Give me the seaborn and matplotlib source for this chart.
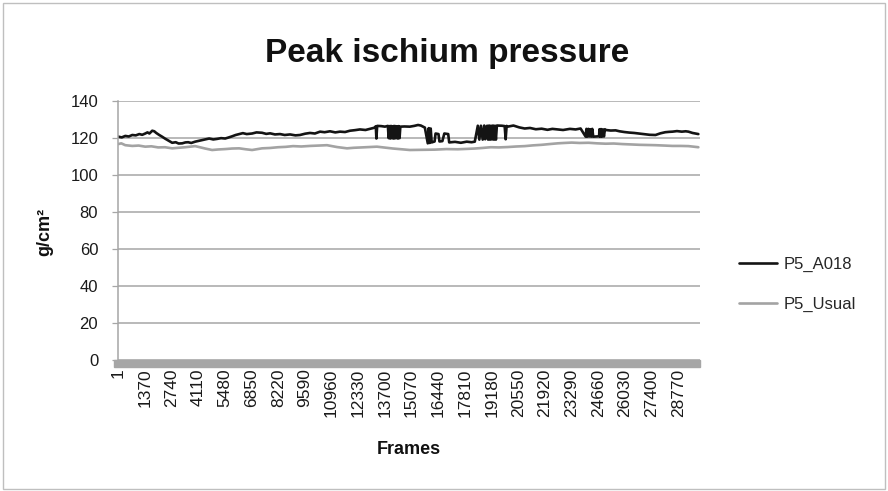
import matplotlib
matplotlib.use("Agg")
import matplotlib.pyplot as plt
import seaborn as sns
import pandas as pd
from matplotlib.patches import Rectangle

# values (frame number -> g/cm2)
a018_frames = [
    1, 180, 360, 540, 720, 900, 1080, 1230, 1385, 1500, 1600, 1745, 1850, 1950,
    2105, 2250, 2410, 2590, 2770, 2950, 3100, 3285, 3450, 3590, 3750, 3950,
    4120, 4310, 4500, 4670, 4880, 5080, 5280, 5490, 5650, 5850, 6030, 6210,
    6400, 6600, 6875, 7100, 7385, 7600, 7800, 8050, 8310, 8550, 8825, 9100,
    9335, 9600, 9850, 10100, 10365, 10600, 10875, 11150, 11390, 11650, 11900,
    12150, 12415, 12700, 12930, 13150, 13230, 13260, 13300, 13500, 13700, 13850,
    13890, 13930, 13970, 14010, 14050, 14090, 14130, 14170, 14210, 14250, 14290,
    14330, 14370, 14410, 14450, 14490, 14700, 14980, 15200, 15400, 15545, 15750,
    15900, 15950, 16000, 16050, 16100, 16250, 16300, 16450, 16500, 16650, 16750,
    16950, 17000, 17300, 17600, 17900, 18150, 18315, 18470, 18550, 18630, 18720,
    18800, 18850, 18950, 19000, 19050, 19100, 19150, 19200, 19250, 19300, 19350,
    19400, 19450, 19700, 19850, 19900, 19950, 20005, 20300, 20600, 20880, 21150,
    21450, 21750, 22050, 22300, 22570, 22850, 23200, 23495, 23750, 24010, 24050,
    24100, 24150, 24200, 24250, 24300, 24350, 24400, 24700, 24720, 24760, 24800,
    24850, 24900, 24950, 25000, 25035, 25300, 25550, 25750, 26000, 26250, 26500,
    26730, 27000, 27300, 27600, 27850, 28100, 28300, 28470, 28700, 28950, 29150,
    29290, 29500, 29800,
]
a018_values = [
    120.6, 120.2, 121.0, 120.7, 121.5, 121.3, 122.0, 121.6, 122.3, 122.9, 122.3, 123.8, 123.5, 122.6,
    121.5, 120.6, 119.5, 118.4, 117.3, 117.6, 116.9, 117.0, 117.5, 117.6, 117.2, 117.9,
    118.3, 118.8, 119.2, 119.6, 119.1, 119.4, 119.8, 119.6, 120.1, 120.8, 121.5, 122.0,
    122.5, 122.0, 122.3, 122.9, 122.7, 122.1, 122.4, 121.8, 122.0, 121.5, 121.8, 121.3,
    121.5, 122.2, 122.6, 122.3, 123.3, 123.0, 123.5, 122.9, 123.3, 123.1, 123.8,
    124.1, 124.5, 124.2, 124.8, 125.4, 126.2, 119.6, 126.4, 126.3, 126.0, 126.4,
    119.8, 126.3, 119.6, 126.4, 119.8, 126.2, 119.6, 126.4, 119.7, 126.3, 119.8,
    126.2, 119.6, 126.3, 119.8, 126.0, 126.1, 126.0, 126.4, 126.9, 126.6, 125.5,
    117.0, 125.2, 117.2, 125.0, 117.5, 118.0, 122.3, 122.0, 118.0, 118.2, 122.3,
    122.0, 117.5, 117.8, 117.3, 117.9, 117.6, 117.9, 126.5, 119.0, 126.5, 119.0,
    126.6, 119.2, 126.5, 119.0, 126.6, 119.0, 126.5, 119.1, 126.6, 119.0, 126.5,
    119.0, 126.6, 126.5, 126.3, 119.2, 126.4, 126.0, 126.6, 125.6, 125.0, 125.3,
    124.6, 124.9, 124.3, 124.8, 124.5, 124.2, 124.8, 124.5, 125.0, 120.6, 124.8,
    120.6, 124.8, 120.7, 124.6, 120.6, 124.8, 120.6, 120.8, 124.6, 120.6, 124.7,
    120.6, 124.5, 120.7, 124.6, 124.2, 123.9, 124.0, 123.5, 123.1, 122.8, 122.6,
    122.3, 121.9, 121.6, 121.5, 122.4, 123.0, 123.2, 123.3, 123.6, 123.3, 123.5,
    123.3, 122.6, 122.0,
]

usual_frames = [
    1, 155, 360, 720, 1050, 1385, 1700, 2050, 2400, 2770, 3100, 3440, 3950, 4465,
    4820, 5150, 5490, 5850, 6210, 6550, 6875, 7385, 7800, 8210, 8600, 8980, 9400,
    9850, 10300, 10720, 11235, 11750, 12100, 12515, 12900, 13285, 13700, 14110,
    14550, 14980, 15600, 16260, 16850, 17440, 17900, 18315, 18700, 19135, 19550,
    20005, 20450, 20880, 21300, 21750, 22150, 22570, 22900, 23290, 23700, 24160,
    24600, 25035, 25450, 25905, 26350, 26780, 27200, 27600, 28050, 28470, 28900,
    29290, 29550, 29800,
]
usual_values = [
    116.6, 117.0, 116.0, 115.6, 115.8, 115.2, 115.4, 114.8, 114.9, 114.3, 114.6, 114.9, 115.5, 114.2,
    113.4, 113.7, 113.9, 114.2, 114.3, 113.8, 113.4, 114.3, 114.5, 114.9, 115.1, 115.5, 115.3,
    115.6, 115.8, 116.0, 115.0, 114.3, 114.6, 114.8, 115.0, 115.2, 114.7, 114.2,
    113.8, 113.4, 113.5, 113.6, 113.9, 113.8, 114.0, 114.2, 114.5, 114.9, 114.8,
    115.0, 115.3, 115.5, 115.9, 116.2, 116.6, 117.0, 117.2, 117.4, 117.2, 117.3,
    117.0, 116.8, 116.9, 116.6, 116.4, 116.2, 116.1, 116.0, 115.8, 115.6, 115.6,
    115.5, 115.2, 114.9,
]

tick_labels = [1, 1370, 2740, 4110, 5480, 6850, 8220, 9590, 10960, 12330, 13700,
               15070, 16440, 17810, 19180, 20550, 21920, 23290, 24660, 26030,
               27400, 28770]
y_ticks = [0, 20, 40, 60, 80, 100, 120, 140]

df = pd.concat([
    pd.DataFrame({"frame": a018_frames, "value": a018_values, "series": "P5_A018"}),
    pd.DataFrame({"frame": usual_frames, "value": usual_values, "series": "P5_Usual"}),
])

sns.set_theme(style="white")
plt.rcParams["font.family"] = ["Liberation Sans", "DejaVu Sans"]

fig = plt.figure(figsize=(8.88, 4.91), dpi=100)
ax = fig.add_axes([0.1332, 0.2664, 0.655, 0.5285])

sns.lineplot(data=df, x="frame", y="value", hue="series",
             hue_order=["P5_A018", "P5_Usual"],
             palette={"P5_A018": "#141414", "P5_Usual": "#a3a3a3"},
             estimator=None, sort=False, linewidth=1.9, ax=ax)

ax.set_xlim(0.5, 29880.5)
ax.set_ylim(0, 140)
ax.set_yticks(y_ticks)
ax.set_xticks(tick_labels)
ax.set_xticklabels([str(t) for t in tick_labels], rotation=90)
ax.set_xlabel("")
ax.set_ylabel("")

ax.yaxis.grid(True, color="#a6a6a6", linewidth=1.1)
ax.xaxis.grid(False)
for side in ["top", "right", "bottom"]:
    ax.spines[side].set_visible(False)
ax.spines["left"].set_color("#a6a6a6")
ax.spines["left"].set_linewidth(1.1)

ax.tick_params(axis="y", left=True, length=4.5, width=0.9, color="#a6a6a6",
               pad=10, labelsize=12, labelcolor="#1a1a1a")
ax.tick_params(axis="x", bottom=False, length=0, pad=6, labelsize=12.5,
               labelcolor="#1a1a1a")

# thick grey floor under the category axis
ax.add_patch(Rectangle((-0.008, -7 / 259.5), 1.008, 7 / 259.5,
                       transform=ax.transAxes, color="#a6a6a6",
                       clip_on=False, zorder=3))

fig.text(0.503, 0.874, "Peak ischium pressure", ha="center", va="baseline",
         fontsize=24, fontweight="bold", color="#111111")
fig.text(409 / 888, 1 - 450 / 491, "Frames", ha="center", va="center",
         fontsize=13, fontweight="bold", color="#111111")
fig.text(45 / 888, 1 - 232 / 491, "g/cm²", ha="center", va="center",
         rotation=90, fontsize=13, fontweight="bold", color="#111111")

handles, labels = ax.get_legend_handles_labels()
ax.legend_.remove()
fig.legend(handles, labels, loc="center left",
           bbox_to_anchor=(739 / 888, 1 - 284 / 491), frameon=False,
           fontsize=12, handlelength=2.3, handletextpad=0.4, labelspacing=1.5,
           borderpad=0, borderaxespad=0)

fig.patches.append(Rectangle((3 / 888, 2 / 491), 882 / 888, 486 / 491,
                             transform=fig.transFigure, fill=False,
                             edgecolor="#bfbfbf", linewidth=1))

fig.savefig("out.png", dpi=100)
